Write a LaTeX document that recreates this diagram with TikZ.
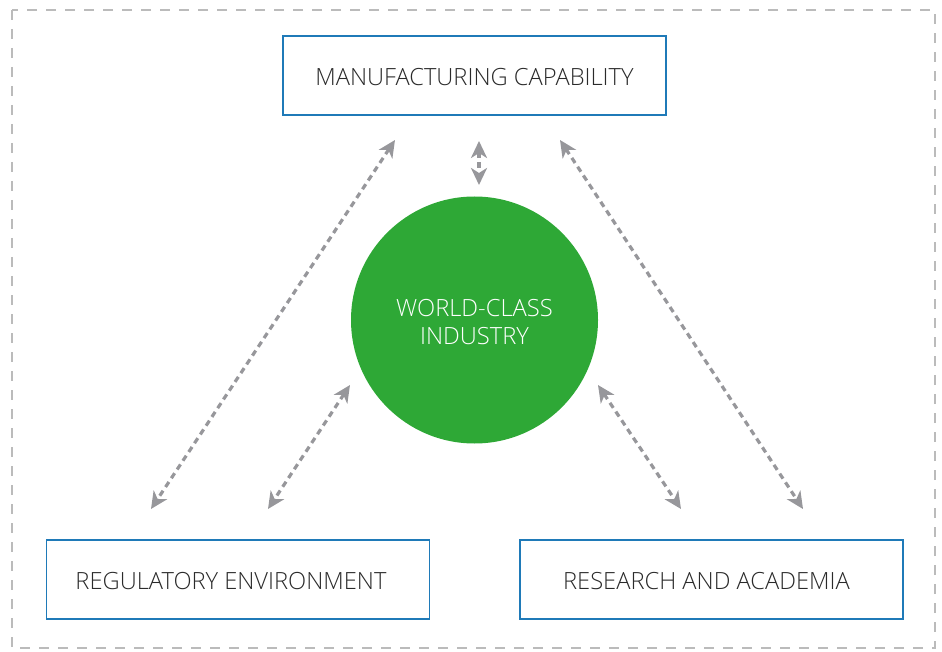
\documentclass[tikz,border=0pt]{standalone}
\usepackage{fontspec}
\setmainfont{Open Sans}[UprightFont=* Light]
\usetikzlibrary{arrows.meta}
\definecolor{boxblue}{HTML}{1F7AB8}
\definecolor{circgreen}{HTML}{2EA836}
\definecolor{arrgray}{HTML}{97979B}
\definecolor{bordgray}{HTML}{BBBBBB}
\definecolor{txtgray}{HTML}{2A2A2A}
\tikzset{
  x=1pt, y=-1pt,
  infobox/.style={draw=boxblue, line width=1.3pt, minimum width=383pt, minimum height=79pt, inner sep=0pt},
  boxlabel/.style={text=txtgray, inner sep=0pt, font=\fontsize{23.7}{28}\selectfont},
  hub/.style={circle, fill=circgreen, minimum size=247pt, inner sep=0pt},
  hublabel/.style={text=white, align=center, inner sep=0pt, font=\fontsize{23.7}{28}\selectfont},
  link/.style={draw=arrgray, line width=3.2pt, dash pattern=on 6pt off 4.5pt, {Stealth[length=17pt,width=16pt,inset=5pt]}-{Stealth[length=17pt,width=16pt,inset=5pt]}},
  frame/.style={draw=bordgray, line width=1.8pt, dash pattern=on 10pt off 9pt}
}
\begin{document}
\begin{tikzpicture}
\useasboundingbox (0,0) rectangle (942,652);
\draw[frame] (12,10) rectangle (935,648);
\node[infobox] (mfg) at (474.5,75.5) {};
\node[boxlabel] (mfgt) at ([yshift=-1.5pt]mfg.center) {MANUFACTURING CAPABILITY};
\node[infobox] (reg) at (238,579.5) {};
\node[boxlabel] (regt) at ([xshift=-7pt,yshift=-1.5pt]reg.center) {REGULATORY ENVIRONMENT};
\node[infobox] (res) at (711.5,579.5) {};
\node[boxlabel] (rest) at ([xshift=-5pt,yshift=-1.5pt]res.center) {RESEARCH AND ACADEMIA};
\node[hub] (ind) at (474.5,320) {};
\node[hublabel] (indt) at ([yshift=-2pt]ind.center) {WORLD-CLASS\\INDUSTRY};
\coordinate (a1) at (395,140);
\coordinate (b1) at (151,509);
\coordinate (a2) at (479,141);
\coordinate (b2) at (479,185);
\coordinate (a3) at (560,140);
\coordinate (b3) at (803,509);
\coordinate (a4) at (350,385);
\coordinate (b4) at (268,509);
\coordinate (a5) at (598,385);
\coordinate (b5) at (681,509);
\draw[link] (a1) -- (b1);
\draw[link] (a2) -- (b2);
\draw[link] (a3) -- (b3);
\draw[link] (a4) -- (b4);
\draw[link] (a5) -- (b5);
\end{tikzpicture}
\end{document}
